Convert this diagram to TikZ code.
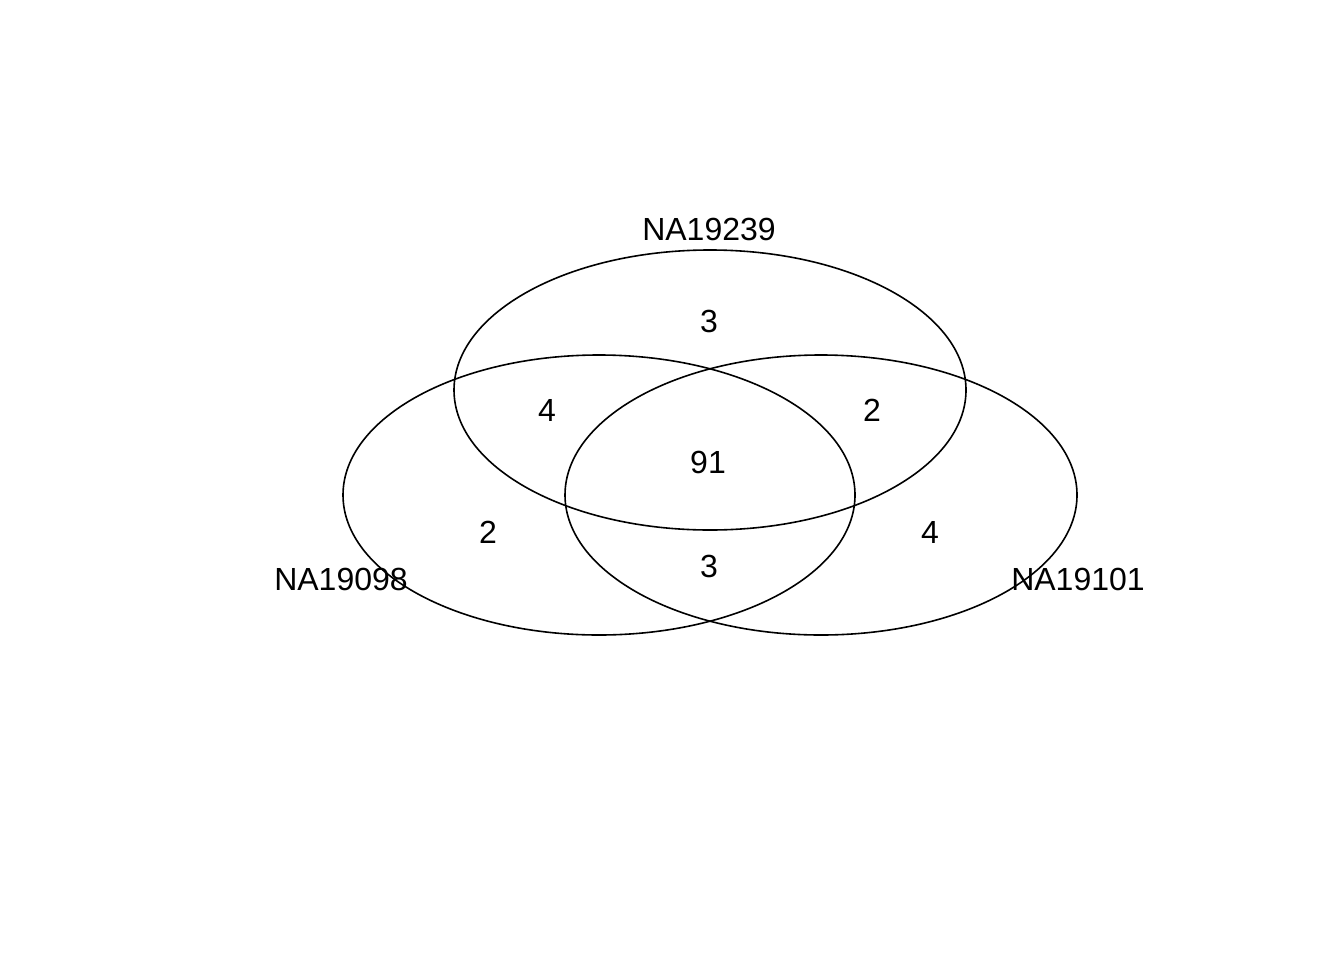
\documentclass[tikz,border=0pt]{standalone}
\usepackage{fontspec}
\setmainfont{Liberation Sans}
\begin{document}
\begin{tikzpicture}[x=0.75pt,y=-0.75pt,
  venn/.style={draw=black,line width=1.2pt},
  lab/.style={font=\fontsize{24}{28}\selectfont,inner sep=0pt,anchor=center}]
\useasboundingbox (0,0) rectangle (1344,960);
\draw[venn] (710,390) ellipse [x radius=256,y radius=140];
\draw[venn] (599,495) ellipse [x radius=256,y radius=140];
\draw[venn] (821,495) ellipse [x radius=256,y radius=140];
\node[lab] (tl) at (709,229) {NA19239};
\node[lab] (ll) at (341,579) {NA19098};
\node[lab] (rl) at (1078,579) {NA19101};
\node[lab] (n1) at (709,321) {3};
\node[lab] (n2) at (547,410) {4};
\node[lab] (n3) at (872,410) {2};
\node[lab] (n4) at (708,462) {91};
\node[lab] (n5) at (488,532) {2};
\node[lab] (n6) at (709,566) {3};
\node[lab] (n7) at (930,532) {4};
\end{tikzpicture}
\end{document}
